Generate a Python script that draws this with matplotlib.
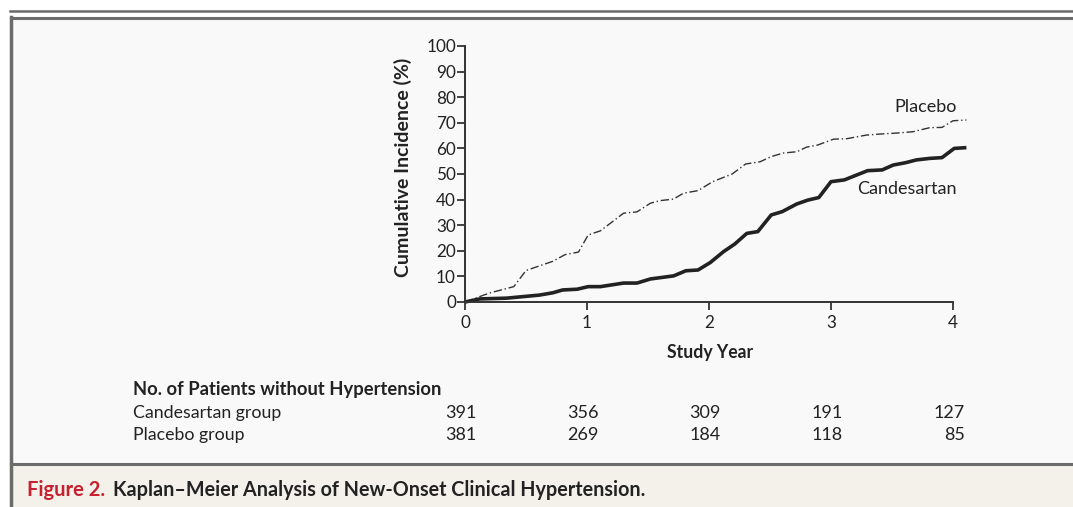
import matplotlib.pyplot as plt
from matplotlib.patches import Rectangle
from matplotlib.lines import Line2D
import matplotlib.transforms as mtransforms

plt.rcParams["font.family"] = ["Lato", "DejaVu Sans"]

# 曲线数据
placebo_x = [0, 0.20, 0.40, 0.50, 0.72, 0.82, 0.93, 1.01, 1.11, 1.30, 1.41, 1.52, 1.60,
             1.71, 1.79, 1.91, 2.03, 2.19, 2.30, 2.42, 2.51, 2.61, 2.72, 2.80, 2.89,
             3.02, 3.13, 3.29, 3.40, 3.54, 3.67, 3.81, 3.91, 4.00, 4.11]
placebo_y = [0, 3.5, 6.0, 12.3, 15.9, 18.5, 19.5, 26.2, 27.8, 34.7, 35.2, 38.6, 39.6,
             40.2, 42.5, 43.5, 47.0, 50.0, 53.9, 54.8, 56.8, 58.2, 58.7, 60.5, 61.3,
             63.6, 63.8, 65.2, 65.6, 66.0, 66.5, 68.1, 68.2, 70.8, 71.1]

cand_x = [0, 0.12, 0.34, 0.61, 0.72, 0.80, 0.92, 1.01, 1.11, 1.30, 1.41, 1.52, 1.71,
          1.81, 1.91, 2.01, 2.12, 2.21, 2.31, 2.40, 2.51, 2.60, 2.72, 2.81, 2.90,
          3.00, 3.11, 3.21, 3.30, 3.42, 3.51, 3.61, 3.70, 3.81, 3.91, 4.01, 4.11]
cand_y = [0, 1.2, 1.5, 2.7, 3.6, 4.7, 5.0, 6.0, 6.0, 7.4, 7.4, 9.0, 10.2,
          12.2, 12.5, 15.4, 19.7, 22.6, 26.8, 27.5, 34.0, 35.3, 38.3, 39.8, 40.8,
          47.0, 47.7, 49.6, 51.3, 51.6, 53.5, 54.4, 55.5, 56.1, 56.4, 60.0, 60.3]

# 风险人数表
years = [0, 1, 2, 3, 4]
cand_at_risk = [391, 356, 309, 191, 127]
placebo_at_risk = [381, 269, 184, 118, 85]

W, H = 1073, 507
fig = plt.figure(figsize=(W / 100, H / 100), dpi=100)
fig.patch.set_facecolor("white")

border = "#6b6b6b"
ink = "#222222"
# 面板背景与边框
fig.add_artist(Rectangle((11 / W, 0), 1, (H - 18) / H, transform=fig.transFigure,
                         facecolor="#f9f9f9", edgecolor="none", zorder=0))
fig.add_artist(Rectangle((11 / W, 0), 1, (H - 465) / H, transform=fig.transFigure,
                         facecolor="#f4f1ea", edgecolor="none", zorder=0))
fig.add_artist(Line2D([10 / W, 1], [(H - 11) / H] * 2, transform=fig.transFigure,
                      color=border, lw=1.8))
fig.add_artist(Line2D([11 / W, 1], [(H - 18) / H] * 2, transform=fig.transFigure,
                      color=border, lw=2.2))
fig.add_artist(Line2D([11 / W, 11 / W], [0, (H - 17) / H], transform=fig.transFigure,
                      color=border, lw=2.5))
fig.add_artist(Line2D([11 / W, 1], [(H - 464) / H] * 2, transform=fig.transFigure,
                      color=border, lw=2.2))

# 坐标轴
ax = fig.add_axes([465 / W, (H - 302) / H, 4.15 * 122 / W, 256 / H])
ax.set_facecolor("none")
ax.set_xlim(0, 4.15)
ax.set_ylim(0, 100)
ax.plot(placebo_x, placebo_y, color="#333333", lw=1.0, ls=(0, (6, 2, 1, 2)), clip_on=False)
ax.plot(cand_x, cand_y, color=ink, lw=2.6, clip_on=False, solid_capstyle="butt")

for s in ["top", "right"]:
    ax.spines[s].set_visible(False)
ax.spines["left"].set_bounds(0, 100)
ax.spines["bottom"].set_bounds(0, 4)
for s in ["left", "bottom"]:
    ax.spines[s].set_color("#333333")
    ax.spines[s].set_linewidth(1.4)
ax.set_xticks(years)
ax.set_yticks(range(0, 101, 10))
ax.tick_params(axis="both", direction="out", length=6, width=1.3, color="#333333",
               labelsize=12.3, labelcolor=ink)
ax.tick_params(axis="y", pad=0.5)
ax.tick_params(axis="x", pad=3.5)

ax.set_ylabel("Cumulative Incidence (%)", fontsize=14, fontweight="bold", color=ink)
ax.yaxis.set_label_coords((412 - 465) / 506, 0.525)
ax.set_xlabel("Study Year", fontsize=12.7, fontweight="bold", color=ink)
ax.xaxis.set_label_coords((710 - 465) / 506, -(344 - 302) / 256)

ax.text(4.03, 76, "Placebo", fontsize=13, color=ink, ha="right", va="center")
ax.text(4.03, 44, "Candesartan", fontsize=13, color=ink, ha="right", va="center")

# 表格
fig.text(133 / W, 1 - 390 / H, "No. of Patients without Hypertension", fontsize=13.2,
         fontweight="bold", color=ink, va="center")
fig.text(133 / W, 1 - 413 / H, "Candesartan group", fontsize=12.8, color=ink, va="center")
fig.text(133 / W, 1 - 435 / H, "Placebo group", fontsize=12.8, color=ink, va="center")
trans = mtransforms.blended_transform_factory(ax.transData, fig.transFigure)
for yr, c, p in zip(years, cand_at_risk, placebo_at_risk):
    fig.text(yr + 0.095, 1 - 413 / H, str(c), transform=trans, fontsize=13,
             color=ink, ha="right", va="center")
    fig.text(yr + 0.095, 1 - 435 / H, str(p), transform=trans, fontsize=13,
             color=ink, ha="right", va="center")

# 图注
fig.text(27 / W, 1 - 490 / H, "Figure 2.", fontsize=14.5, fontweight="bold",
         color="#c8202f", va="center")
fig.text(113 / W, 1 - 490 / H, "Kaplan\u2013Meier Analysis of New-Onset Clinical Hypertension.",
         fontsize=14.2, fontweight="bold", color=ink, va="center")

fig.savefig("out.png", dpi=100)
